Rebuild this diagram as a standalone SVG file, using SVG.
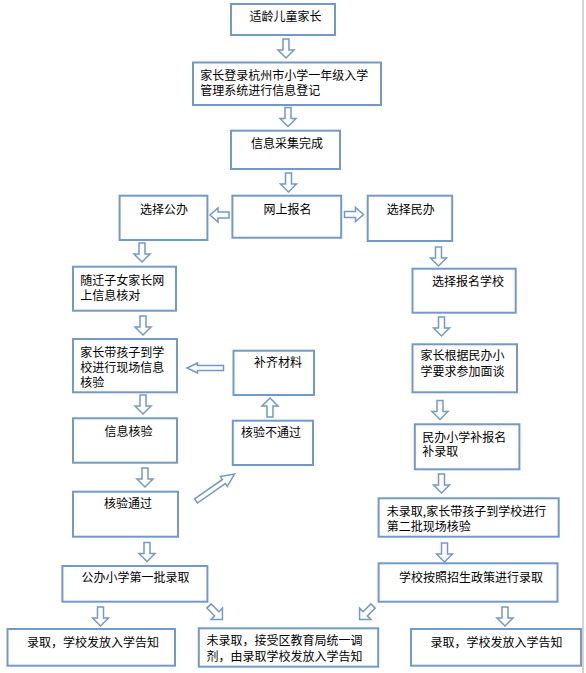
<svg xmlns="http://www.w3.org/2000/svg" xmlns:xlink="http://www.w3.org/1999/xlink" width="586" height="673" viewBox="0 0 586 673">
<defs>
<style>
.box{fill:#ffffff;stroke:#7399c6;stroke-width:2}
.t{font-family:"Noto Sans CJK SC","Liberation Sans",sans-serif;font-size:12px;fill:#000000}
.ar{fill:#ffffff;stroke:#7399c6;stroke-width:1.5;stroke-linejoin:miter}
</style>
<path id="ad" d="M0,-3 H11 V-8 L19,0 L11,8 V3 H0 Z"/>
<path id="as" d="M0,-3 H11 V-7 L19,0 L11,7 V3 H0 Z"/>
<path id="al" d="M0,-2.5 H26 V-5 L36.5,0 L26,5 V2.5 H0 Z"/>
<path id="ag" d="M0,-2.5 H34 V-6 L47,0 L34,6 V2.5 H0 Z"/>
</defs>
<rect width="586" height="673" fill="#ffffff"/>
<line x1="583" y1="0" x2="583" y2="673" stroke="#d4d4d4" stroke-width="2"/>

<g id="connectors">
<use xlink:href="#ad" class="ar" transform="translate(286,39) rotate(90)"/>
<use xlink:href="#ad" class="ar" transform="translate(288,107.5) rotate(90)"/>
<use xlink:href="#ad" class="ar" transform="translate(288.5,173) rotate(90)"/>
<use xlink:href="#as" class="ar" transform="translate(229,215) rotate(180)"/>
<use xlink:href="#as" class="ar" transform="translate(344.5,214.5)"/>
<use xlink:href="#ad" class="ar" transform="translate(142,243) rotate(90)"/>
<use xlink:href="#ad" class="ar" transform="translate(143,316) rotate(90)"/>
<use xlink:href="#ad" class="ar" transform="translate(143,395) rotate(90)"/>
<use xlink:href="#ad" class="ar" transform="translate(145,468) rotate(90)"/>
<use xlink:href="#ad" class="ar" transform="translate(147,542.5) rotate(90)"/>
<use xlink:href="#ad" class="ar" transform="translate(100.5,607) rotate(90)"/>
<use xlink:href="#ad" class="ar" transform="translate(438.5,247) rotate(90)"/>
<use xlink:href="#ad" class="ar" transform="translate(441.5,317) rotate(90)"/>
<use xlink:href="#ad" class="ar" transform="translate(440,400.5) rotate(90)"/>
<use xlink:href="#ad" class="ar" transform="translate(441.5,474) rotate(90)"/>
<use xlink:href="#ad" class="ar" transform="translate(444.5,543) rotate(90)"/>
<use xlink:href="#ad" class="ar" transform="translate(505,607) rotate(90)"/>
<use xlink:href="#ad" class="ar" transform="translate(270,417) rotate(-90)"/>
<use xlink:href="#al" class="ar" transform="translate(223.5,368) rotate(180)"/>
<use xlink:href="#ag" class="ar" transform="translate(196,501) rotate(-35)"/>
<use xlink:href="#ad" class="ar" transform="translate(209,606) rotate(45)"/>
<use xlink:href="#ad" class="ar" transform="translate(373,606) rotate(135)"/>
</g>

<g id="n1"><rect class="box" x="231" y="4" width="104" height="31"/><text class="t" x="249.6" y="20.5">适龄儿童家长</text></g>
<g id="n2"><rect class="box" x="193" y="62.5" width="188" height="42.5"/><text class="t" x="200.3" y="80">家长登录杭州市小学一年级入学</text><text class="t" x="200.3" y="94.5">管理系统进行信息登记</text></g>
<g id="n3"><rect class="box" x="231" y="130.7" width="109" height="38.3"/><text class="t" x="251" y="148">信息采集完成</text></g>
<g id="n4"><rect class="box" x="119.6" y="195.7" width="87.8" height="44.3"/><text class="t" x="140" y="213.5">选择公办</text></g>
<g id="n5"><rect class="box" x="232.4" y="195.7" width="108.8" height="42"/><text class="t" x="263.5" y="213.5">网上报名</text></g>
<g id="n6"><rect class="box" x="367.7" y="195.7" width="84.5" height="45.3"/><text class="t" x="386.8" y="213.5">选择民办</text></g>
<g id="n7"><rect class="box" x="73" y="266.7" width="103" height="44"/><text class="t" x="80.3" y="284.5">随迁子女家长网</text><text class="t" x="80.3" y="299.5">上信息核对</text></g>
<g id="n8"><rect class="box" x="412.5" y="268.7" width="103.2" height="44"/><text class="t" x="432" y="286">选择报名学校</text></g>
<g id="n9"><rect class="box" x="73" y="339" width="104" height="53.3"/><text class="t" x="80.3" y="356.5">家长带孩子到学</text><text class="t" x="80.3" y="371.5">校进行现场信息</text><text class="t" x="80.3" y="386.5">核验</text></g>
<g id="n10"><rect class="box" x="233.5" y="350.7" width="80.5" height="44.3"/><text class="t" x="254" y="366.8">补齐材料</text></g>
<g id="n11"><rect class="box" x="412.5" y="344.3" width="104.5" height="48"/><text class="t" x="420.4" y="360">家长根据民办小</text><text class="t" x="420.4" y="376">学要求参加面谈</text></g>
<g id="n12"><rect class="box" x="73" y="418.3" width="104" height="44.4"/><text class="t" x="104.6" y="436">信息核验</text></g>
<g id="n13"><rect class="box" x="232.8" y="420.7" width="80.2" height="44.3"/><text class="t" x="241" y="437">核验不通过</text></g>
<g id="n14"><rect class="box" x="414.8" y="424.3" width="104.6" height="45"/><text class="t" x="422.3" y="441.8">民办小学补报名</text><text class="t" x="422.3" y="456">补录取</text></g>
<g id="n15"><rect class="box" x="73" y="491.7" width="105" height="45"/><text class="t" x="104" y="508">核验通过</text></g>
<g id="n16"><rect class="box" x="378.6" y="498.3" width="180.1" height="38.4"/><text class="t" x="386.8" y="516">未录取,家长带孩子到学校进行</text><text class="t" x="386.8" y="531">第二批现场核验</text></g>
<g id="n17"><rect class="box" x="62.4" y="566" width="145" height="35.7"/><text class="t" x="81.5" y="581.8">公办小学第一批录取</text></g>
<g id="n18"><rect class="box" x="378.6" y="563.3" width="178.9" height="38.4"/><text class="t" x="399" y="581.8">学校按照招生政策进行录取</text></g>
<g id="n19"><rect class="box" x="7.5" y="629" width="167.5" height="36.7"/><text class="t" x="27" y="646.8">录取，学校发放入学告知</text></g>
<g id="n20"><rect class="box" x="198.8" y="628.3" width="179.4" height="38.4"/><text class="t" x="206.6" y="645.2">未录取，接受区教育局统一调</text><text class="t" x="206.6" y="661.2">剂，由录取学校发放入学告知</text></g>
<g id="n21"><rect class="box" x="411" y="629" width="170" height="36.7"/><text class="t" x="430.5" y="646.8">录取，学校发放入学告知</text></g>
</svg>
